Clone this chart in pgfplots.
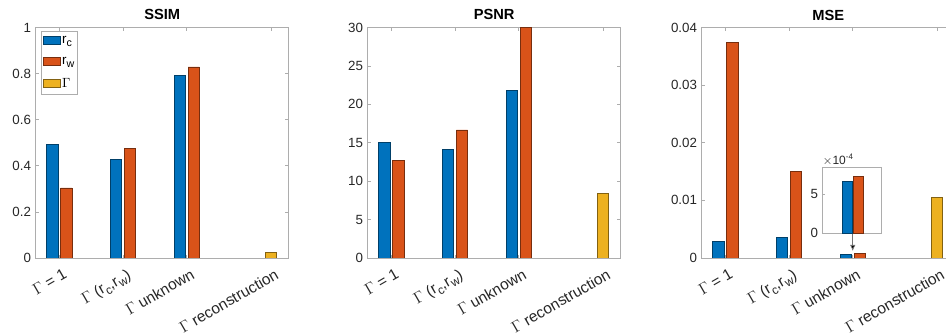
\documentclass[border=0pt]{standalone}
\usepackage{pgfplots}
\pgfplotsset{compat=1.18}
\usepackage{fontspec}
\setmainfont{Liberation Sans}
\usetikzlibrary{arrows.meta}
\definecolor{mblue}{rgb}{0,0.447,0.741}
\definecolor{mred}{rgb}{0.85,0.325,0.098}
\definecolor{myel}{rgb}{0.929,0.694,0.125}
\definecolor{axgray}{gray}{0.68}
\definecolor{txt}{gray}{0.15}
\newcommand{\sub}[1]{\raisebox{-2.6pt}{\fontsize{8}{9}\selectfont #1}}
\newcommand{\xsub}[1]{\raisebox{-2.8pt}{\fontsize{9}{10}\selectfont #1}}
\pgfplotsset{
  mstyle/.style={
    scale only axis, width=189.75pt, height=172.9pt, anchor=south west,
    xmin=0.63, xmax=4.6, ymin=0, scaled y ticks=false,
    xtick={1,2,3,4.32},
    xticklabels={{$\Gamma$ = 1},{$\Gamma$ (r\xsub{c},r\xsub{w})},{$\Gamma$ unknown},{$\Gamma$ reconstruction}},
    xticklabel style={rotate=30, anchor=north east, font=\fontsize{11.6}{13}\selectfont, text=txt, inner sep=1pt, yshift=-6.5pt, xshift=-0.5pt},
    yticklabel style={font=\fontsize{10}{12}\selectfont, text=txt},
    axis line style={axgray}, tick style={axgray, line width=0.5pt},
    tick align=inside, major tick length=2.5pt,
    every axis title/.style={at={(0.5,1)}, anchor=base, yshift=5.6pt, font=\fontsize{11}{13}\selectfont\bfseries},
  },
  blueb/.style={ybar, bar width=0.179, bar shift=-0.11, fill=mblue, draw=mblue!55!black, line width=0.4pt},
  redb/.style={ybar, bar width=0.179, bar shift=0.11, fill=mred, draw=mred!55!black, line width=0.4pt},
  yelb/.style={ybar, bar width=0.179, bar shift=0, fill=myel, draw=myel!55!black, line width=0.4pt},
}
\begin{document}
\begin{tikzpicture}
\path[use as bounding box, clip] (0pt,0pt) rectangle (709.5pt,251.25pt);
% SSIM
\begin{axis}[mstyle, at={(26.78pt,57.75pt)}, title={SSIM}, ymax=1,
  ytick={0,0.2,0.4,0.6,0.8,1}, yticklabels={0,0.2,0.4,0.6,0.8,1},
  legend style={at={(0.021,0.985)}, anchor=north west, draw=axgray, font=\fontsize{10}{12}\selectfont,
    inner xsep=1.5pt, inner ysep=2.5pt, row sep=7pt, nodes={inner xsep=1pt, inner ysep=1pt}},
  legend cell align=left,
  legend image code/.code={\draw[#1] (0pt,-3pt) rectangle (12.8pt,3pt);}]
\addplot[blueb] coordinates {(1,0.493) (2,0.428) (3,0.793)};
\addlegendentry{r\sub{c}}
\addplot[redb] coordinates {(1,0.304) (2,0.474) (3,0.829)};
\addlegendentry{r\sub{w}}
\addplot[yelb] coordinates {(4.32,0.027)};
\addlegendentry{$\Gamma$}
\end{axis}
% PSNR
\begin{axis}[mstyle, at={(275.78pt,57.75pt)}, title={PSNR}, ymax=30,
  ytick={0,5,10,15,20,25,30}, yticklabels={0,5,10,15,20,25,30}]
\addplot[blueb] coordinates {(1,15.04) (2,14.18) (3,21.82)};
\addplot[redb] coordinates {(1,12.7) (2,16.66) (3,30)};
\addplot[yelb] coordinates {(4.32,8.44)};
\end{axis}
% MSE
\begin{axis}[mstyle, at={(526.28pt,57.75pt)}, title={MSE}, ymax=0.04,
  ytick={0,0.01,0.02,0.03,0.04}, yticklabels={0,0.01,0.02,0.03,0.04}]
\addplot[blueb] coordinates {(1,0.00291) (2,0.00356) (3,0.00066)};
\addplot[redb] coordinates {(1,0.03738) (2,0.0150) (3,0.000735)};
\addplot[yelb] coordinates {(4.32,0.01046)};
\draw[black!55, line width=0.5pt, -{Latex[length=4.5pt,width=4pt,fill=black]}] (axis cs:3,0.00425) -- (axis cs:3,0.00122);
\end{axis}
% inset
\begin{axis}[scale only axis, at={(617.0pt,76.3pt)}, anchor=south west, width=44.25pt, height=49.2pt,
  xmin=2.495, xmax=3.495, ymin=0, ymax=8.4, xtick=\empty, ytick={0,5}, yticklabels={0,5}, ytick pos=left,
  yticklabel style={font=\fontsize{10}{12}\selectfont, text=txt},
  axis line style={axgray}, tick style={axgray}, tick align=inside, major tick length=2pt,
  axis background/.style={fill=white}, clip=false]
\addplot[ybar, bar width=0.17, bar shift=-0.092, fill=mblue, draw=mblue!55!black, line width=0.4pt] coordinates {(3,6.6)};
\addplot[ybar, bar width=0.17, bar shift=0.092, fill=mred, draw=mred!55!black, line width=0.4pt] coordinates {(3,7.35)};
\node[anchor=south west, inner sep=0pt, yshift=1.5pt, text=txt, font=\fontsize{9}{11}\selectfont] at (rel axis cs:0,1) {$\times$10\textsuperscript{-4}};
\end{axis}
\end{tikzpicture}
\end{document}
